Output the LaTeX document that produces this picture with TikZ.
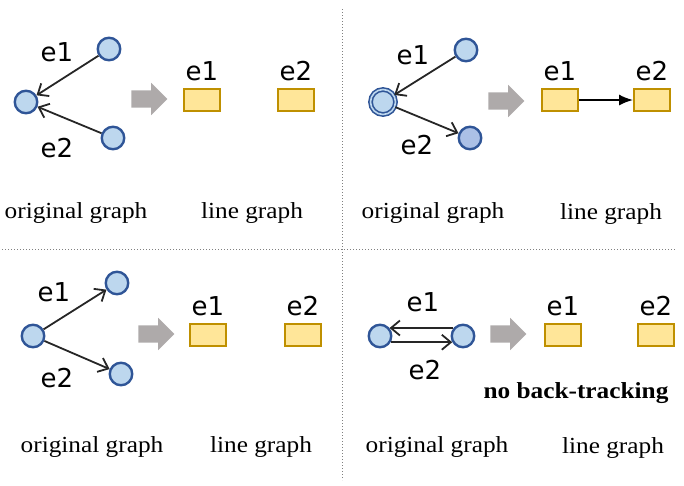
\documentclass[tikz,border=0pt]{standalone}
\usepackage{fontspec}
\setmainfont[FakeStretch=1.1]{Liberation Serif}
\newfontfamily\lblfont{DejaVu Sans}
\usepackage{xcolor}
\usetikzlibrary{shapes.arrows, arrows.meta, positioning}

\definecolor{vtxline}{HTML}{2F5597}
\definecolor{vtxfill}{HTML}{BDD7EE}
\definecolor{vtxdark}{HTML}{ABC0E6}
\definecolor{boxline}{HTML}{BF9000}
\definecolor{boxfill}{HTML}{FFE699}
\definecolor{fatgray}{HTML}{AEAAAA}
\definecolor{edgecol}{HTML}{262626}

\begin{document}
\begin{tikzpicture}[
            x=1pt, y=-1pt,
            vtx/.style={circle, draw=vtxline, line width=2.4pt, fill=vtxfill, minimum size=22.5pt, inner sep=0pt},
            ebox/.style={rectangle, draw=boxline, line width=2.4pt, fill=boxfill, minimum width=35.5pt, minimum height=21.5pt, inner sep=0pt},
            gedge/.style={draw=edgecol, line width=1.8pt, -{Straight Barb[length=9pt, width=15pt]}},
            fat/.style={single arrow, fill=fatgray, minimum height=36pt, minimum width=32pt, single arrow head extend=7.5pt, inner sep=0pt},
            elabel/.style={font=\lblfont\fontsize{26}{26}\selectfont, inner sep=0pt},
            caption/.style={font=\fontsize{23}{23}\selectfont, anchor=base, inner sep=0pt},
            divider/.style={gray, dotted, line width=1pt}
        ]
        \useasboundingbox (0,0) rectangle (684,485);

        % --- Dividers ---
        \draw[divider] (342,9) -- (342,480);
        \draw[divider] (2,249) -- (676,249);

        % --- Top left: two edges into one vertex ---
        \node[vtx] (tlA) at (109,49) {};
        \node[vtx] (tlL) at (26,102) {};
        \node[vtx] (tlB) at (113,138) {};
        \draw[gedge] (tlA) -- (tlL);
        \draw[gedge] (tlB) -- (tlL);
        \node[elabel] (tlLab1) at (57,52) {e1};
        \node[elabel] (tlLab2) at (57,148) {e2};
        \node[fat] (tlFat) at (145,99) {\rule{0pt}{17pt}};
        \node[ebox] (tlE1) at (202,100) {};
        \node[ebox] (tlE2) at (296,100) {};
        \node[elabel, above=7pt of tlE1] (tlE1Lab) {e1};
        \node[elabel, above=7pt of tlE2] (tlE2Lab) {e2};
        \node[caption] (tlOrig) at (76,218) {original graph};
        \node[caption] (tlLine) at (252,218) {line graph};

        % --- Top right: a path through one vertex ---
        \node[vtx] (trA) at (466,50) {};
        \node[vtx, double=vtxfill, double distance=1.6pt, line width=1.6pt, minimum size=25pt] (trD) at (383,102) {};
        \node[vtx, fill=vtxdark] (trB) at (470,138) {};
        \draw[gedge] (trA) -- (trD);
        \draw[gedge] (trD) -- (trB);
        \node[elabel] (trLab1) at (413,55) {e1};
        \node[elabel] (trLab2) at (417,145) {e2};
        \node[fat] (trFat) at (502,101) {\rule{0pt}{17pt}};
        \node[ebox] (trE1) at (560,100) {};
        \node[ebox] (trE2) at (652,100) {};
        \node[elabel, above=7pt of trE1] (trE1Lab) {e1};
        \node[elabel, above=7pt of trE2] (trE2Lab) {e2};
        \draw[draw=black, line width=1.8pt, -{Latex[length=14pt, width=11pt]}] (trE1) -- (trE2);
        \node[caption] (trOrig) at (433,218) {original graph};
        \node[caption] (trLine) at (611,219) {line graph};

        % --- Bottom left: two edges out of one vertex ---
        \node[vtx] (blT) at (117,283) {};
        \node[vtx] (blL) at (33,336) {};
        \node[vtx] (blB) at (121,374) {};
        \draw[gedge] (blL) -- (blT);
        \draw[gedge] (blL) -- (blB);
        \node[elabel] (blLab1) at (54,292) {e1};
        \node[elabel] (blLab2) at (57,378) {e2};
        \node[fat] (blFat) at (152,334) {\rule{0pt}{17pt}};
        \node[ebox] (blE1) at (208,335) {};
        \node[ebox] (blE2) at (303,335) {};
        \node[elabel, above=7pt of blE1] (blE1Lab) {e1};
        \node[elabel, above=7pt of blE2] (blE2Lab) {e2};
        \node[caption] (blOrig) at (92,452) {original graph};
        \node[caption] (blLine) at (261,452) {line graph};

        % --- Bottom right: edge and its reverse ---
        \node[vtx] (brL) at (380,336) {};
        \node[vtx] (brR) at (463,336) {};
        \draw[gedge] (brR.140) -- (brL.40);
        \draw[gedge] (brL.-30) -- (brR.-150);
        \node[elabel] (brLab1) at (423,302) {e1};
        \node[elabel] (brLab2) at (425,370) {e2};
        \node[fat] (brFat) at (504,334) {\rule{0pt}{17pt}};
        \node[ebox] (brE1) at (563,335) {};
        \node[ebox] (brE2) at (656,335) {};
        \node[elabel, above=7pt of brE1] (brE1Lab) {e1};
        \node[elabel, above=7pt of brE2] (brE2Lab) {e2};
        \node[caption, font=\bfseries\fontsize{23}{23}\selectfont] (brNote) at (576,398) {no back-tracking};
        \node[caption] (brOrig) at (437,452) {original graph};
        \node[caption] (brLine) at (613,453) {line graph};

\end{tikzpicture}
\end{document}
